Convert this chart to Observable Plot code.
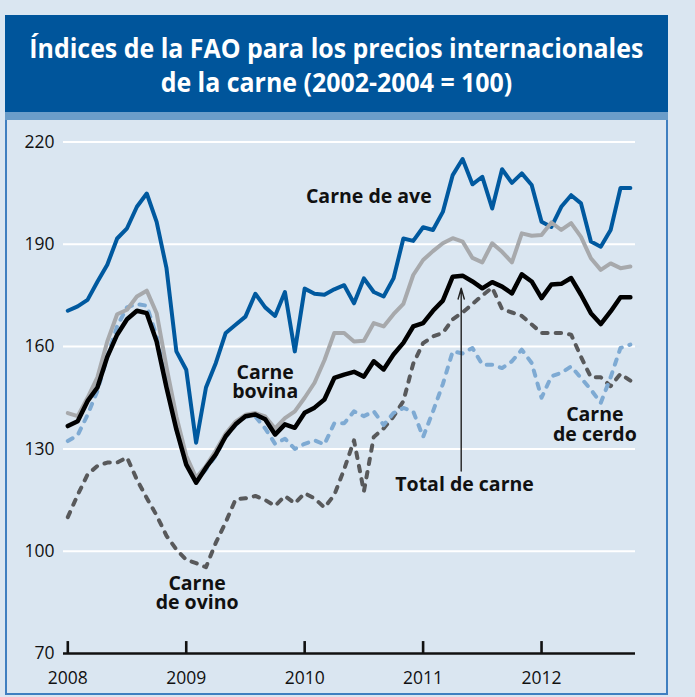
<!DOCTYPE html>
<html><head><meta charset="utf-8">
<script src="https://cdn.jsdelivr.net/npm/d3@7"></script>
<script src="https://cdn.jsdelivr.net/npm/@observablehq/plot@0.6"></script>
<style>
html,body{margin:0;padding:0;}
body{width:695px;height:697px;background:#dae6f1;position:relative;overflow:hidden;font-family:"Open Sans",sans-serif;}
#title{position:absolute;left:5px;top:15px;width:663px;height:97px;background:#00559b;color:#fff;}
#title div{position:absolute;left:0;width:100%;text-align:center;white-space:nowrap;font-weight:700;font-size:26px;line-height:26px;}
#title span{display:inline-block;transform-origin:50% 50%;}
#band{position:absolute;left:5px;top:112px;width:663px;height:8px;background:#6b9dc9;}
#panel{position:absolute;left:5px;top:120px;width:663px;height:575px;box-sizing:border-box;border:2px solid #3f7fc0;border-top:none;}
#chart{position:absolute;left:0;top:120px;}
</style></head>
<body>
<div id="title">
  <div style="top:20px"><span>Índices de la FAO para los precios internacionales</span></div>
  <div style="top:53.5px"><span>de la carne (2002-2004 = 100)</span></div>
</div>
<div id="band"></div>
<div id="panel"></div>
<div id="chart"></div>
<script>
// Monthly index values, January 2008 – October 2012 (month index 0..57)
const years = ["2008", "2009", "2010", "2011", "2012"];
const yearTicks = [0, 12, 24, 36, 48];
const yTicks = [70, 100, 130, 160, 190, 220];
const gridValues = [100, 130, 160, 190, 220];

const carneAve = [170.5,171.8,173.7,179,184,191.7,194.7,201,204.9,196.6,183,158.6,
  153.2,131.8,148,155.2,164,166.4,168.8,175.5,171.5,169,176,158.6,
  177,175.5,175.2,176.8,178,172.7,180,176,174.7,180,191.7,191,
  195,194.2,199.5,210.3,215,207.6,209.8,200.5,212,208,210.8,207.4,
  196.6,195.1,201,204.4,202,190.8,189.3,194.2,206.5,206.5];
const carneBovina = [140.5,139.6,145,151,161.5,169.5,170.8,174.7,176.4,169.8,154,139.5,
  128,121.5,125,129.5,134.5,138,140,140.5,139.5,136,139,141,
  145,149.4,156,164,164,161.5,161.7,166.9,165.9,169.5,172.5,181,
  185.4,188,190.3,191.8,190.8,186,184.7,190.3,187.8,184.7,193.2,192.5,
  192.7,196.4,194.2,196.2,192.2,185.9,182.5,184.4,183,183.5];
const totalCarne = [136.7,138.1,144,148,157,163.5,168,170.5,169.8,161.5,148,135.7,
  125.4,120.1,124.5,128.4,133.7,137.2,139.6,140.1,138.7,134.2,137.2,136.2,
  140.6,142.1,144.5,150.8,151.8,152.6,151.2,155.7,153.3,157.7,161.1,165.9,
  166.9,170.5,173.5,180.5,180.8,179.1,177.1,178.9,177.6,175.6,181.2,179.1,
  174.2,178.2,178.4,180.1,175.2,169.8,166.6,170.3,174.5,174.5];
const carneCerdo = [132.3,134,140,147,157,166,171.5,172.5,172,163,149,136,
  125.5,120.5,124,128,133.5,137,139.5,139.5,136,131.5,133,130,
  131.5,132.5,131.3,137.5,137.5,141,139.6,141,137,140.5,142,141,
  133.5,141,149,158.6,158,159.6,154.7,154.7,153.7,155.7,159.1,155.2,
  145,151.3,152.3,154.2,150.8,147.4,143.5,151,159.6,160.6];
const carneOvino = [110,116.5,122.5,125,126,126,127.5,121,115.6,110.5,104.5,100.5,
  97.5,96.5,95.3,102.5,108.5,115.2,115.5,116.2,115,113.3,116.2,114,
  117,115.5,112.8,116.5,124,132.5,117.5,133.5,136,139.5,144,155,
  161,163,164,168,170,172.5,175,177.3,171,170,169,166.5,
  164,164,164,163.5,157,151,151,148.4,152,150];

// annotations (x in month index, y in index value)
const labels = [
  {text: "Carne de ave", m: 30.5, v: 204},
  {text: "Carne\nbovina", m: 20, v: 149.5},
  {text: "Total de carne", m: 40.2, v: 119.6},
  {text: "Carne\nde cerdo", m: 53.4, v: 137.1},
  {text: "Carne\nde ovino", m: 13.1, v: 87.7}
];
const arrowData = [{m: 39.86, from: 123.5, to: 177.1}];
const tickTop = 73.5; // top of the short upward year ticks on the baseline

const toRows = arr => arr.map((v, i) => ({m: i, v}));

const lineStyle = {x: "m", y: "v", strokeLinejoin: "round", strokeLinecap: "round"};

const chart = Plot.plot({
  width: 695,
  height: 577,
  marginLeft: 63,
  marginRight: 60,
  marginTop: 21.5,
  marginBottom: 44,
  style: {background: "transparent", fontFamily: "Open Sans", fontSize: "17.5px", color: "#111"},
  x: {domain: [-0.436, 57.52], ticks: yearTicks, tickFormat: i => years[i / 12], tickSize: 0, tickPadding: 18, label: null},
  y: {domain: [70, 220], ticks: yTicks, tickFormat: d => String(d), tickSize: 0, tickPadding: 9, label: null},
  marks: [
    Plot.ruleY(gridValues, {stroke: "white", strokeWidth: 2}),
    Plot.line(toRows(carneOvino), {...lineStyle, stroke: "#58595b", strokeWidth: 4, strokeDasharray: "5.5,8"}),
    Plot.line(toRows(carneCerdo), {...lineStyle, stroke: "#7eaad3", strokeWidth: 4, strokeDasharray: "5.5,8"}),
    Plot.line(toRows(carneAve), {...lineStyle, stroke: "#00599f", strokeWidth: 4}),
    Plot.line(toRows(carneBovina), {...lineStyle, stroke: "#a7a9ac", strokeWidth: 4}),
    Plot.line(toRows(totalCarne), {...lineStyle, stroke: "#000", strokeWidth: 4.5}),
    Plot.ruleY([70], {stroke: "#111", strokeWidth: 2.6}),
    Plot.ruleX(yearTicks, {y1: 70, y2: tickTop, stroke: "#111", strokeWidth: 2.6}),
    Plot.arrow(arrowData, {x1: "m", x2: "m", y1: "from", y2: "to", stroke: "#222", strokeWidth: 1.4, headLength: 12, headAngle: 32}),
    Plot.text(labels, {x: "m", y: "v", text: "text", fontSize: 19.5, fontWeight: "bold", fill: "#111", lineAnchor: "middle", lineHeight: 1})
  ]
});
document.getElementById("chart").appendChild(chart);

// narrow the title font to the reference width
const spans = document.querySelectorAll("#title span");
const w = spans[0].getBoundingClientRect().width;
const k = 614 / w;
spans.forEach(s => s.style.transform = `scaleX(${k})`);
</script>
</body></html>
